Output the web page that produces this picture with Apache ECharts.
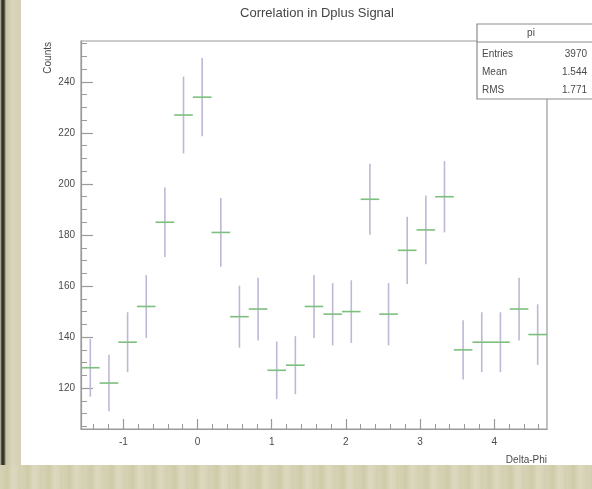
<!DOCTYPE html>
<html>
<head>
<meta charset="utf-8">
<script src="https://cdn.jsdelivr.net/npm/echarts@6/dist/echarts.min.js"></script>
<style>
  html, body { margin: 0; padding: 0; background: #ffffff; }
  #wrap { position: relative; width: 592px; height: 489px; overflow: hidden; background: #ffffff; }
  #edgeLeft { position: absolute; left: 0; top: 0; width: 21px; height: 489px;
    background: linear-gradient(90deg, #cfcbb0 0px, #2e2e28 2px, #3a3a32 4px, #c9c6a8 6px, #d8d5bb 12px, #d3d0b4 21px); }
  #edgeBottom { position: absolute; left: 0; top: 465px; width: 592px; height: 24px;
    background: repeating-linear-gradient(90deg, #d6d3b6 0px, #cfcba9 7px, #dcd9bf 13px, #d2cfb0 21px); }
  #chart { position: absolute; left: 21px; top: 0; width: 571px; height: 465px; }
</style>
</head>
<body>
<div id="wrap">
  <div id="edgeLeft"></div>
  <div id="edgeBottom"></div>
  <div id="chart"></div>
</div>
<script>
// Histogram "pi": counts per Delta-Phi bin, 25 bins over [-pi/2, 3pi/2]
const nBins = 25;
const xLow = -Math.PI / 2;
const xHigh = 3 * Math.PI / 2;
const counts = [128, 122, 138, 152, 185, 227, 234, 181, 148, 151, 127, 129, 152,
                149, 150, 194, 149, 174, 182, 195, 135, 138, 138, 151, 141];

// Axis tick labels
const xMajorTicks = [-1, 0, 1, 2, 3, 4];
const xMinorTicks = [];
for (let v = -14; v <= 46; v += 2) xMinorTicks.push(v / 10);
const yMajorTicks = [120, 140, 160, 180, 200, 220, 240];
const yMinorTicks = [];
for (let v = 105; v <= 255; v += 5) yMinorTicks.push(v);

// Statistics box entries
const statsTitle = 'pi';
const statsNames = ['Entries', 'Mean', 'RMS'];
const statsValues = ['3970', '1.544', '1.771'];

const binWidth = (xHigh - xLow) / nBins;
const histData = counts.map((c, i) => {
  const lo = xLow + i * binWidth;
  return [lo + binWidth / 2, c, lo, lo + binWidth, Math.sqrt(c)];
});

const font = '"Liberation Sans Narrow", "Liberation Sans", Arial, sans-serif';
const axisGray = '#9a9a9a';
const textGray = '#4a4a4a';

const chart = echarts.init(document.getElementById('chart'), null, { renderer: 'canvas' });

// chart div starts at x=21; frame spans x 81..547, y 41..432 in page coordinates
const gridLeft = 81 - 21, gridRight = 571 - (547 - 21), gridTop = 41, gridBottom = 465 - 432;

const boxX = 477 - 21, boxY = 24, boxW = 592 - 477 + 2, boxH = 75;

const statsGraphics = [
  { type: 'rect', shape: { x: boxX, y: boxY, width: boxW, height: boxH },
    style: { fill: '#ffffff', stroke: '#8c8c8c', lineWidth: 1.2 }, z: 100 },
  { type: 'line', shape: { x1: boxX, y1: boxY + 18, x2: boxX + boxW, y2: boxY + 18 },
    style: { stroke: '#8c8c8c', lineWidth: 1.2 }, z: 101 },
  { type: 'text', x: 531 - 21, y: boxY + 9,
    style: { text: statsTitle, font: '10px ' + font, fill: textGray, align: 'center', verticalAlign: 'middle' }, z: 101 }
];
statsNames.forEach((n, i) => {
  statsGraphics.push({ type: 'text', x: 482 - 21, y: 54 + i * 18,
    style: { text: n, font: '10px ' + font, fill: textGray, align: 'left', verticalAlign: 'middle' }, z: 101 });
  statsGraphics.push({ type: 'text', x: 587 - 21, y: 54 + i * 18,
    style: { text: statsValues[i], font: '10px ' + font, fill: textGray, align: 'right', verticalAlign: 'middle' }, z: 101 });
});

const option = {
  animation: false,
  backgroundColor: '#ffffff',
  title: {
    text: 'Correlation in Dplus Signal',
    left: 312 - 21, top: 2, textAlign: 'center',
    textStyle: { fontFamily: font, fontSize: 13, fontWeight: 'normal', color: '#454545' }
  },
  grid: {
    left: gridLeft, right: gridRight, top: gridTop, bottom: gridBottom,
    show: true, borderColor: axisGray, borderWidth: 1.2, backgroundColor: 'transparent'
  },
  xAxis: [
    {
      type: 'value', min: xLow, max: xHigh,
      name: 'Delta-Phi', nameLocation: 'end', nameGap: 0,
      nameTextStyle: { fontFamily: font, fontSize: 10, color: textGray, align: 'right', verticalAlign: 'top', padding: [26, 0, 0, 0] },
      axisLine: { show: true, onZero: false, lineStyle: { color: axisGray, width: 1.2 } },
      axisTick: { show: true, inside: true, length: 10, customValues: xMajorTicks, lineStyle: { color: axisGray, width: 1.2 } },
      axisLabel: { show: true, customValues: xMajorTicks, margin: 8, fontFamily: font, fontSize: 10, color: textGray },
      splitLine: { show: false }
    },
    {
      type: 'value', min: xLow, max: xHigh, position: 'bottom',
      axisLine: { show: false, onZero: false },
      axisTick: { show: true, inside: true, length: 5, customValues: xMinorTicks, lineStyle: { color: axisGray, width: 1 } },
      axisLabel: { show: false },
      splitLine: { show: false }
    }
  ],
  yAxis: [
    {
      type: 'value', min: 104, max: 256,
      axisLine: { show: true, onZero: false, lineStyle: { color: axisGray, width: 1.2 } },
      axisTick: { show: true, inside: true, length: 12, customValues: yMajorTicks, lineStyle: { color: axisGray, width: 1.2 } },
      axisLabel: { show: true, customValues: yMajorTicks, margin: 6, fontFamily: font, fontSize: 10, color: textGray },
      splitLine: { show: false }
    },
    {
      type: 'value', min: 104, max: 256, position: 'left',
      axisLine: { show: false, onZero: false },
      axisTick: { show: true, inside: true, length: 6, customValues: yMinorTicks, lineStyle: { color: axisGray, width: 1 } },
      axisLabel: { show: false },
      splitLine: { show: false }
    }
  ],
  graphic: [
    { type: 'text', x: 48 - 21, y: 42, rotation: Math.PI / 2,
      style: { text: 'Counts', font: '10px ' + font, fill: textGray, align: 'right', verticalAlign: 'middle' } },
    ...statsGraphics
  ],
  series: [
    {
      type: 'custom',
      xAxisIndex: 0, yAxisIndex: 0,
      data: histData,
      encode: { x: [0, 2, 3], y: 1 },
      clip: true,
      renderItem: function (params, api) {
        const xc = api.value(0), y = api.value(1);
        const lo = api.value(2), hi = api.value(3), err = api.value(4);
        const pTop = api.coord([xc, y + err]);
        const pBot = api.coord([xc, y - err]);
        const pL = api.coord([lo, y]);
        const pR = api.coord([hi, y]);
        return {
          type: 'group',
          children: [
            { type: 'line', shape: { x1: pTop[0], y1: pTop[1], x2: pBot[0], y2: pBot[1] },
              style: { stroke: '#bdb8d6', lineWidth: 1.6 } },
            { type: 'line', shape: { x1: pL[0], y1: pL[1], x2: pR[0], y2: pR[1] },
              style: { stroke: '#7dbf7d', lineWidth: 1.6 } }
          ]
        };
      }
    }
  ]
};

chart.setOption(option);
</script>
</body>
</html>
